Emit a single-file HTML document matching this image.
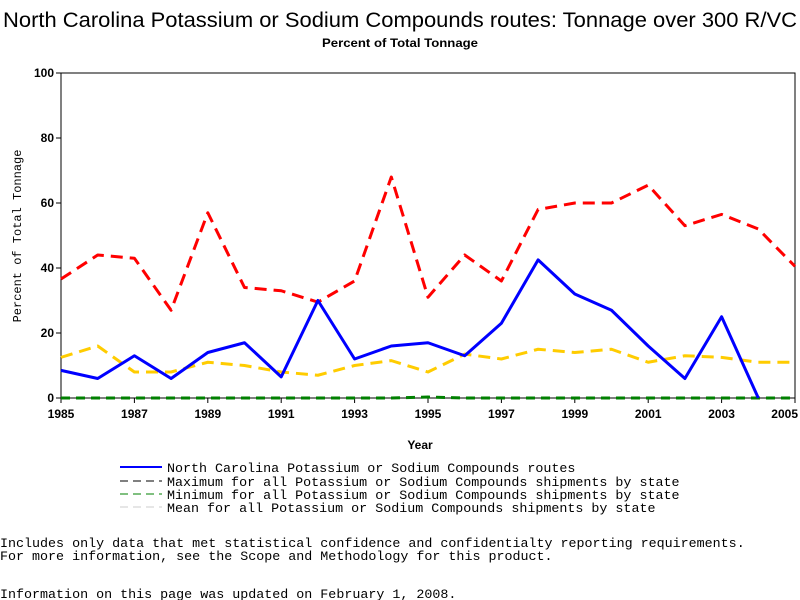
<!DOCTYPE html>
<html><head><meta charset="utf-8"><style>
body{margin:0;background:#fff;}
svg{display:block;}
</style></head><body>
<svg id="chart" width="800" height="600" xmlns="http://www.w3.org/2000/svg">
<text x="400" y="27" text-anchor="middle" font-family="Liberation Sans, sans-serif" font-size="21" textLength="794" lengthAdjust="spacingAndGlyphs">North Carolina Potassium or Sodium Compounds routes: Tonnage over 300 R/VC</text>
<text x="400" y="47" text-anchor="middle" font-family="Liberation Sans, sans-serif" font-size="12" font-weight="bold" textLength="156" lengthAdjust="spacingAndGlyphs">Percent of Total Tonnage</text>
<g id="axes"></g>
<g id="series"></g>
<text x="420" y="449" text-anchor="middle" font-family="Liberation Sans, sans-serif" font-size="12" font-weight="bold">Year</text>
<text transform="translate(21,236) rotate(-90)" text-anchor="middle" font-family="Liberation Mono, monospace" font-size="12">Percent of Total Tonnage</text>
<g font-family="Liberation Mono, monospace" font-size="13.35">
<g><line x1="120" y1="467" x2="162" y2="467" stroke="#0000ff" stroke-width="2"/><text x="167" y="472">North Carolina Potassium or Sodium Compounds routes</text></g>
<g><line x1="120" y1="481" x2="162" y2="481" stroke="#000" stroke-dasharray="8,5"/><text x="167" y="486">Maximum for all Potassium or Sodium Compounds shipments by state</text></g>
<g><line x1="120" y1="494" x2="162" y2="494" stroke="#008000" stroke-dasharray="8,5"/><text x="167" y="499">Minimum for all Potassium or Sodium Compounds shipments by state</text></g>
<g><line x1="120" y1="507" x2="162" y2="507" stroke="#ccc" stroke-dasharray="8,5"/><text x="167" y="512">Mean for all Potassium or Sodium Compounds shipments by state</text></g>
</g>
<g font-family="Liberation Mono, monospace" font-size="13.35">
<text x="0" y="547">Includes only data that met statistical confidence and confidentialty reporting requirements.</text>
<text x="0" y="560">For more information, see the Scope and Methodology for this product.</text>
<text x="0" y="598">Information on this page was updated on February 1, 2008.</text>
</g>
</svg>
<script>
const years=[1985,1986,1987,1988,1989,1990,1991,1992,1993,1994,1995,1996,1997,1998,1999,2000,2001,2002,2003,2004,2005];
const ncValues=[8.5,6,13,6,14,17,6.5,30,12,16,17,13,23,42.5,32,27,16,6,25,0,null];
const maxValues=[36.6,44,43,27,57,34,33,29.5,36,68,31,44,36,58,60,60,65.5,53,56.5,52,40.5];
const minValues=[0,0,0,0,0,0,0,0,0,0,0.3,0,0,0,0,0,0,0,0,0,0];
const meanValues=[12.5,16,8,8,11,10,8,7,10,11.5,8,13.5,12,15,14,15,11,13,12.5,11,11];
const yTicks=[0,20,40,60,80,100];
const xTicks=[1985,1987,1989,1991,1993,1995,1997,1999,2001,2003,2005];
const NS='http://www.w3.org/2000/svg';
const X0=61,X1=795,Y0=398,Y1=73;
const xs=y=>X0+(y-1985)/(2005-1985)*(X1-X0);
const ys=v=>Y0-v/100*(Y0-Y1);
function mk(tag,attrs,parent){const e=document.createElementNS(NS,tag);for(const k in attrs)e.setAttribute(k,attrs[k]);parent.appendChild(e);return e;}
const axes=document.getElementById('axes');
const frame=mk('rect',{x:X0,y:Y1,width:X1-X0,height:Y0-Y1,fill:'none',stroke:'#000'},axes);


yTicks.forEach(t=>{
 const l=mk('line',{x1:X0-5,x2:X0,y1:ys(t),y2:ys(t),stroke:'#000'},axes);
 
 
 const tx=mk('text',{x:X0-7,y:ys(t)+4,'text-anchor':'end','font-family':'Liberation Sans, sans-serif','font-size':'12','font-weight':'bold'},axes);
 tx.textContent=t;
 
 
});
xTicks.forEach((t,i)=>{
 const l=mk('line',{x1:xs(t),x2:xs(t),y1:Y0,y2:Y0+5,stroke:'#000'},axes);
 
 
 const last=i===xTicks.length-1;
 const tx=mk('text',{x:last?798:xs(t),y:Y0+20,'text-anchor':last?'end':'middle','font-family':'Liberation Sans, sans-serif','font-size':'12','font-weight':'bold'},axes);
 tx.textContent=t;
 
 
});
const series=document.getElementById('series');
function line(vals,color,dash,name){
 const pts=[];vals.forEach((v,i)=>{if(v!==null)pts.push(xs(years[i])+','+ys(v));});
 const p=mk('polyline',{points:pts.join(' '),fill:'none',stroke:color,'stroke-width':3,'stroke-dasharray':dash,'stroke-linejoin':'round'},series);
 
 
}
line(meanValues,'#ffcc00','12,7','mean-line');
line(minValues,'#008000','9,6','minimum-line');
line(maxValues,'#ff0000','12,7','maximum-line');
line(ncValues,'#0000ff','none','north-carolina-line');
</script>
</body></html>
